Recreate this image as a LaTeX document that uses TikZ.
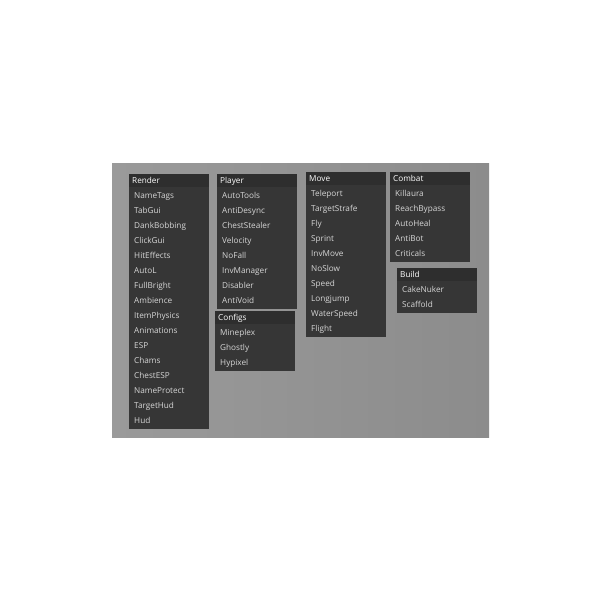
\documentclass[tikz,border=0pt]{standalone}
\usepackage{fontspec}
\setmainfont{Open Sans}
\usetikzlibrary{calc}
\definecolor{bgL}{HTML}{9A9A9A}
\definecolor{bgR}{HTML}{8C8C8C}
\definecolor{panelcol}{HTML}{363636}
\definecolor{headcol}{HTML}{2E2E2E}
\definecolor{itemcol}{HTML}{D6D6D6}
\tikzset{
  panelbox/.style={fill=panelcol, draw=none, minimum width=80pt, inner sep=0pt, anchor=north west},
  headbox/.style={fill=headcol, draw=none, minimum width=80pt, minimum height=13pt, inner sep=0pt, anchor=north west},
  headtxt/.style={text=white, font=\fontsize{8.2}{9}\selectfont, anchor=base west, inner sep=0pt},
  itemtxt/.style={text=itemcol, font=\fontsize{8.2}{9}\selectfont, anchor=base west, inner sep=0pt},
}
\newcommand\guipanel[6]{%
  \node[panelbox, minimum height={(15*#4+15)*1pt}] (#1) at (#2,#3) {};
  \node[headbox] (#1-head) at (#2,#3) {};
  \node[headtxt] (#1-title) at (#2+3,#3+9.5) {#5};
  \foreach \t [count=\i] in {#6} {\node[itemtxt] (#1-\i) at (#2+5,#3+9+15*\i) {\t};}
}
\begin{document}
\begin{tikzpicture}[x=1pt,y=-1pt]
\useasboundingbox (0,0) rectangle (600,600);
\fill[white] (0,0) rectangle (600,600);
\shade[left color=bgL, right color=bgR] (112,163) rectangle (489,437);
\guipanel{render}{129}{174}{16}{Render}{NameTags,TabGui,DankBobbing,ClickGui,HitEffects,AutoL,FullBright,Ambience,ItemPhysics,Animations,ESP,Chams,ChestESP,NameProtect,TargetHud,Hud}
\guipanel{player}{217}{174}{8}{Player}{AutoTools,AntiDesync,ChestStealer,Velocity,NoFall,InvManager,Disabler,AntiVoid}
\guipanel{configs}{215}{311}{3}{Configs}{Mineplex,Ghostly,Hypixel}
\guipanel{move}{306}{172}{10}{Move}{Teleport,TargetStrafe,Fly,Sprint,InvMove,NoSlow,Speed,Longjump,WaterSpeed,Flight}
\guipanel{combat}{390}{172}{5}{Combat}{Killaura,ReachBypass,AutoHeal,AntiBot,Criticals}
\guipanel{build}{397}{268}{2}{Build}{CakeNuker,Scaffold}
\end{tikzpicture}
\end{document}
